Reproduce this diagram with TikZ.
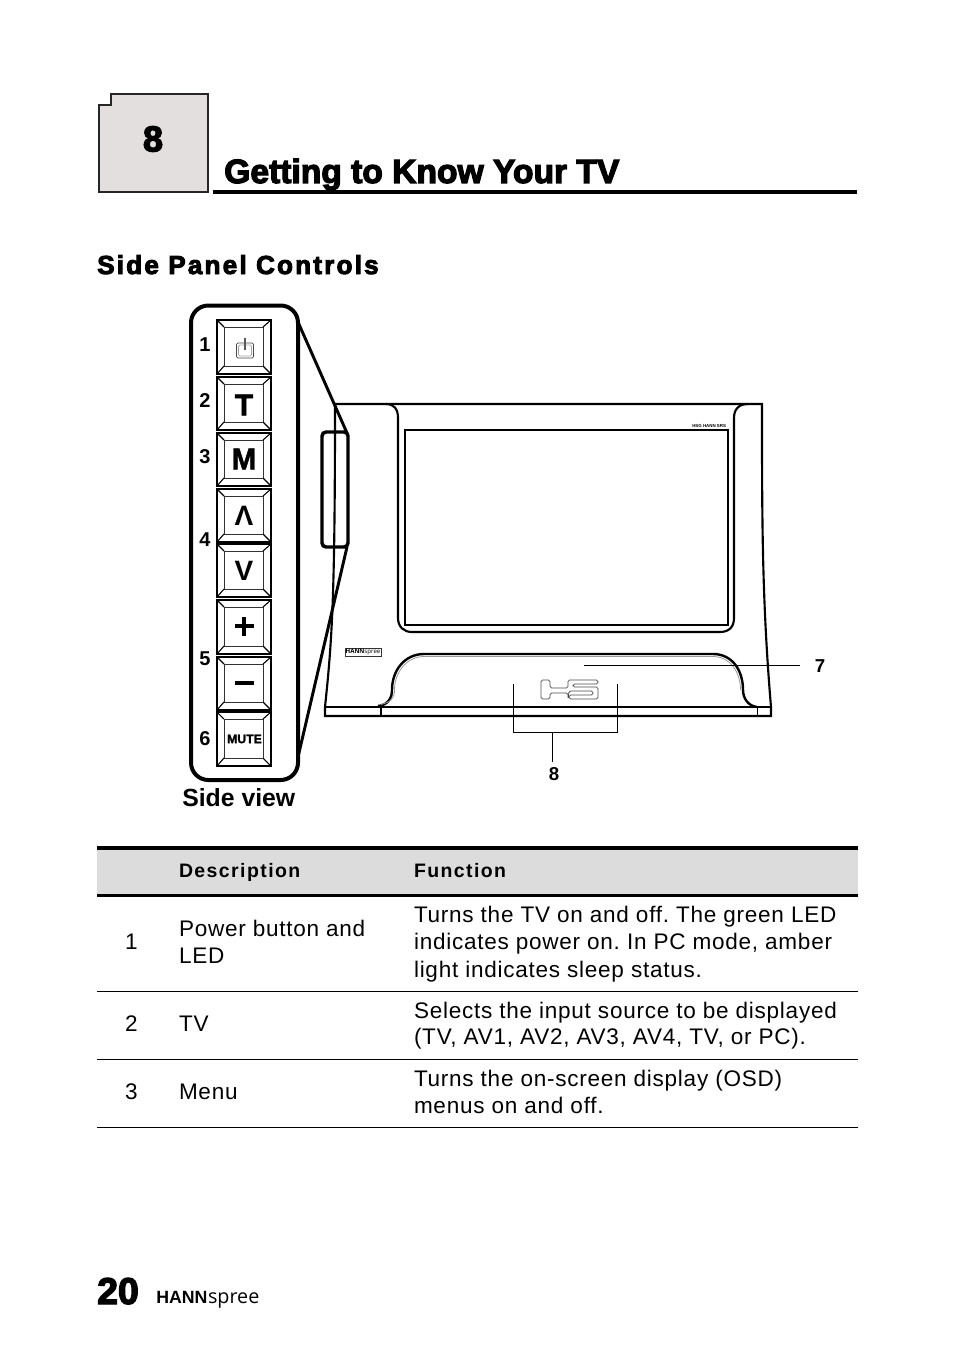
\documentclass[tikz,border=0pt]{standalone}
\usepackage{fontspec}
\setmainfont{Liberation Sans}
\newfontfamily\hv[FakeBold=3.6]{Liberation Sans Bold}
\newfontfamily\hvw[FakeBold=3.6,LetterSpace=8.6]{Liberation Sans Bold}
\newfontfamily\bd{Liberation Sans Bold}
\newfontfamily\bdh[FakeBold=1.5]{Liberation Sans Bold}
\newfontfamily\bdw[LetterSpace=7.3]{Liberation Sans Bold}
\newfontfamily\bodyf[LetterSpace=3.3]{Liberation Sans}
\newfontfamily\logof{Open Sans}
\definecolor{hdr}{HTML}{DCDCDC}
\definecolor{chap}{HTML}{E3DFDF}
\tikzset{
 x=0.75pt,y=-0.75pt,
 txt/.style={anchor=base west,inner sep=0,outer sep=0,font=\fontsize{16.9}{20}\bodyf},
 th/.style={anchor=base west,inner sep=0,outer sep=0,font=\fontsize{14.6}{18}\bdw},
 num/.style={inner sep=0,outer sep=0,font=\fontsize{15}{18}\bd},
 keyout/.style={draw=black,line width=1.5pt},
 leader/.style={draw=black,line width=0.65pt},
 tvline/.style={draw=black,line width=1.6pt},
 keyl/.style={inner sep=0,outer sep=0},
 rowline/.style={draw=black,line width=0.6pt},
}
\newcommand{\keycap}[2]{%
 \pgfmathsetmacro{\ti}{#1+7}\pgfmathsetmacro{\bi}{#2-8}
 \draw[keyout] (217,#1) rectangle (271,#2);
 \draw[black!80,line width=0.7pt] (224,\ti) rectangle (263,\bi);
 \draw[black,line width=0.8pt] (217,#1)--(224,\ti) (271,#1)--(263,\ti) (217,#2)--(224,\bi) (271,#2)--(263,\bi);
}
\begin{document}
\frenchspacing
\begin{tikzpicture}
\path[use as bounding box,fill=white] (0,0) rectangle (954,1352);
% chapter tab
\draw[fill=chap,draw=black!85,line width=1.2pt] (111,94)--(208,94)--(208,192)--(99,192)--(99,105)--(111,105)--cycle;
\node[inner sep=0,font=\fontsize{27}{30}\hv] (chapnum) at (153,139) {8};
\node[anchor=base west,inner sep=0,font=\fontsize{25.2}{30}\hv] (title) at (224,183) {Getting to Know Your TV};
\draw[black,line width=3pt] (213,192)--(857,192);
\node[anchor=base west,inner sep=0,font=\fontsize{19.5}{22}\hvw] (sect) at (97,274) {Side Panel Controls};
% side panel
\draw[black,line width=3pt,rounded corners=13pt] (191,305.5) rectangle (298,780);
\keycap{320}{374}
\keycap{377}{430}
\keycap{433}{486}
\keycap{489}{542}
\keycap{544}{597}
\keycap{600}{654}
\keycap{657}{710}
\keycap{712}{766}
% power icon
\draw[black!70,line width=0.6pt,rounded corners=1pt] (236.5,343)--(236.5,358)--(253.5,358)--(253.5,343)--cycle;
\draw[black!35,line width=0.6pt,rounded corners=1pt] (238.5,345) rectangle (251.5,356);
\draw[black!65,line width=1.4pt] (245,338)--(245,350);
\node[keyl,font=\fontsize{22.5}{24}\bdh] (kt) at (244,405) {T};
\node[keyl,font=\fontsize{22.5}{24}\bdh] (km) at (244,459) {M};
\node[keyl,font=\fontsize{21}{24}\bd] (ku) at (244,516) {Λ};
\node[keyl,font=\fontsize{21}{24}\bd] (kv) at (244,571) {V};
\draw[black,line width=3pt] (235,626)--(254,626) (244,617)--(244,636);
\draw[black,line width=3pt] (235,683)--(254,683);
\node[keyl,font=\fontsize{9.2}{10}\bdh] (kmute) at (244.5,739) {MUTE};
% numbers
\node[num] (n1) at (205,345) {1};
\node[num] (n2) at (205,401) {2};
\node[num] (n3) at (205,457) {3};
\node[num] (n4) at (205,540) {4};
\node[num] (n5) at (205,659) {5};
\node[num] (n6) at (205,739) {6};
\node[inner sep=0,anchor=base west,font=\fontsize{18.6}{22}\bd] (sv) at (182,806) {Side view};
% TV body
\draw[tvline] (335,404)--(762,404)
  .. controls (762,520) and (762,600) .. (771,707)--(771,716)--(325,716)--(325,707)
  .. controls (332,640) and (335,600) .. (335,404);
\draw[tvline] (386,404) .. controls (394,404) and (398,409) .. (398,418)--(398,618)
  .. controls (398,627) and (404,632) .. (412,632)--(720,632)
  .. controls (729,632) and (734,627) .. (734,618)--(734,418)
  .. controls (734,409) and (739,404) .. (748,404);
\draw[black,line width=1.6pt] (405,430) rectangle (728,625);
% stand arch
\draw[black,line width=1.8pt] (378,706) .. controls (388,705) and (392,698) .. (392,690)
  .. controls (392,670) and (405,654) .. (424,654)--(713,654)
  .. controls (732,654) and (743,670) .. (743,690)
  .. controls (743,698) and (748,706) .. (757,707);
\draw[black!40,line width=0.6pt] (381,704.5) .. controls (391,702) and (394.5,698) .. (394.5,690)
  .. controls (394.5,672) and (407,656.5) .. (424,656.5)--(713,656.5)
  .. controls (730,656.5) and (740.5,672) .. (740.5,690);
\draw[black,line width=0.9pt] (325,707)--(771,707);
\draw[black,line width=1.2pt] (381,707)--(381,716);
\draw[black,line width=0.7pt] (757,707)--(757,716);
\draw[black,line width=1.5pt] (325,716)--(771,716);
% H5 logo
\draw[black!70,line width=0.6pt,rounded corners=1.2pt] (541,680)--(550,680)--(550,688)--(568,688)--(568,680)--(598,680)--(598,684)--(573,684)--(573,687)--(598,687)--(598,699)--(569,699)--(569,695)--(593,695)--(593,691)--(569,691)--(568,699)--(568,693)--(550,693)--(550,699)--(541,699)--cycle;
% tiny labels
\draw[black!80,line width=0.5pt] (345,648.5) rectangle (381,656);
\node[inner sep=0,font=\fontsize{4.6}{6}\logof] (tvlogo) at (363,652.3) {\textbf{HANN}spree};
\node[inner sep=0,anchor=base west,font=\fontsize{3.3}{4}\bd] (tvmodel) at (692,427) {HSG  HANN  SRS};
% leaders
\node[num,font=\fontsize{14}{16}\bd] (n7) at (820,666) {7};
\node[num,font=\fontsize{14}{16}\bd] (n8) at (554,774) {8};
\coordinate (l7) at (584,665.5);
\coordinate (e7) at (800,665.5);
\draw[leader] (l7)--(e7);
\coordinate (b1) at (513.5,684); \coordinate (b2) at (617.5,684);
\coordinate (bm) at (552.5,732.5); \coordinate (bn) at (552.5,762);
\draw[leader] (b1)--(513.5,732.5)--(617.5,732.5)--(b2);
\draw[leader] (bm)--(bn);
% zoom connector
\draw[black,line width=2.6pt,rounded corners=3pt] (322,432) rectangle (348,547);
\draw[black,line width=2.2pt] (298,322)--(347,433);
\draw[black,line width=2.2pt] (347,547)--(298,757);
% table
\fill[hdr] (97,850) rectangle (858,895);
\draw[black,line width=3pt] (97,848)--(858,848);
\draw[black,line width=2pt] (97,895.5)--(858,895.5);
\draw[rowline] (97,991.5)--(858,991.5);
\draw[rowline] (97,1059.5)--(858,1059.5);
\draw[rowline] (97,1127.5)--(858,1127.5);
\node[th] (h1) at (179,877) {Description};
\node[th] (h2) at (414,877) {Function};
\node[txt] (r1a) at (125,949) {1};
\node[txt] (r1b) at (179,936) {Power button and};
\node[txt] (r1c) at (179,963) {LED};
\node[txt] (r1d) at (414,922) {Turns the TV on and off. The green LED};
\node[txt] (r1e) at (414,949) {indicates power on. In PC mode, amber};
\node[txt] (r1f) at (414,977) {light indicates sleep status.};
\node[txt] (r2a) at (125,1031) {2};
\node[txt] (r2b) at (179,1031) {TV};
\node[txt] (r2c) at (414,1018) {Selects the input source to be displayed};
\node[txt] (r2d) at (414,1044) {(TV, AV1, AV2, AV3, AV4, TV, or PC).};
\node[txt] (r3a) at (125,1099) {3};
\node[txt] (r3b) at (179,1099) {Menu};
\node[txt] (r3c) at (414,1086) {Turns the on-screen display (OSD)};
\node[txt] (r3d) at (414,1113) {menus on and off.};
% footer
\node[anchor=base west,inner sep=0,font=\fontsize{28}{30}\hv] (pg) at (97,1304) {20};
\node[anchor=base west,inner sep=0,font=\fontsize{13.3}{14}\bd] (ftA) at (156,1303) {HANN};
\node[anchor=base west,inner sep=0,font=\fontsize{14.8}{20}\logof] (ftB) at (ftA.base east) {spree};
\end{tikzpicture}
\end{document}
